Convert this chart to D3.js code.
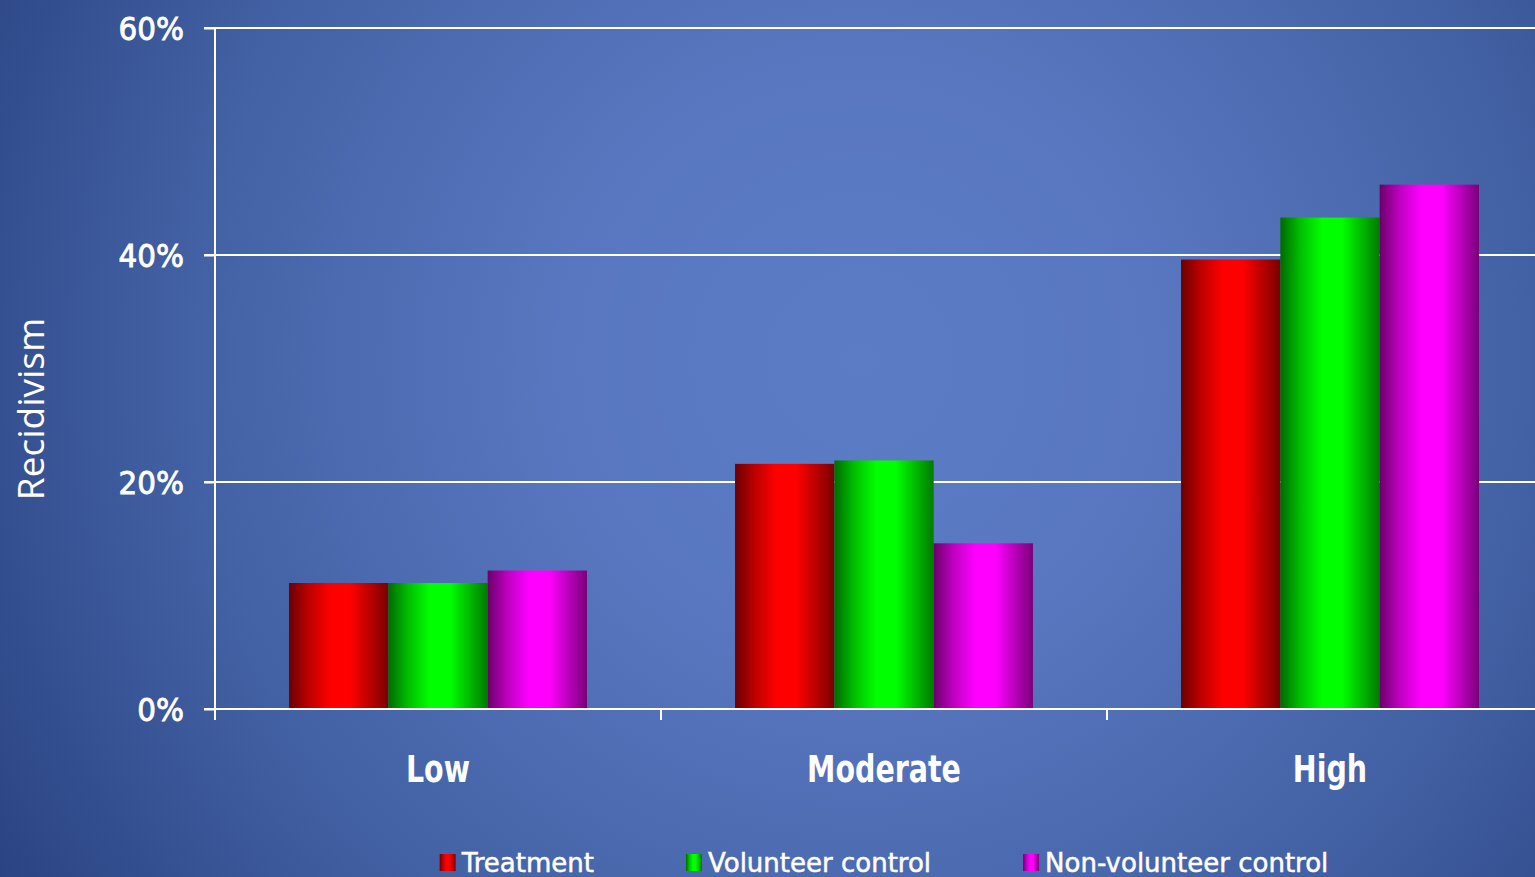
<!DOCTYPE html>
<html>
<head>
<meta charset="utf-8">
<script src="https://cdn.jsdelivr.net/npm/d3@7"></script>
<style>
  html, body { margin: 0; padding: 0; overflow: hidden; background: #3d5a9c; }
  svg { display: block; }
</style>
</head>
<body>
<svg id="chart" width="1535" height="877"></svg>
<script>
// ---- data ----
const categories = ["Low", "Moderate", "High"];
const seriesNames = ["Treatment", "Volunteer control", "Non-volunteer control"];
const treatment = [11.1, 21.6, 39.6];
const volunteerControl = [11.1, 21.9, 43.3];
const nonVolunteerControl = [12.2, 14.6, 46.2];
const yTicks = [0, 20, 40, 60];
const yTitle = "Recidivism";
const seriesColors = ["#ff0000", "#00ff00", "#ff00ff"];

const seriesValues = [treatment, volunteerControl, nonVolunteerControl];

const W = 1535, H = 877;
const svg = d3.select("#chart");
const defs = svg.append("defs");

// background radial gradient
const bg = defs.append("radialGradient").attr("id", "bg")
  .attr("gradientUnits", "userSpaceOnUse")
  .attr("cx", 860).attr("cy", 360).attr("r", 1000);
[[0, "#5c7cc6"], [0.3, "#5877c0"], [0.65, "#4463a6"], [1, "#2b4483"]].forEach(([o, c]) =>
  bg.append("stop").attr("offset", o).attr("stop-color", c));
svg.append("rect").attr("width", W).attr("height", H).attr("fill", "url(#bg)");

// bar gradients
seriesColors.forEach((c, i) => {
  const base = d3.rgb(c);
  const k = f => d3.rgb(base.r * f, base.g * f, base.b * f);
  const g = defs.append("linearGradient").attr("id", "grad" + i)
    .attr("x1", 0).attr("x2", 1).attr("y1", 0).attr("y2", 0);
  [[0, k(0.42)], [0.2, k(0.75)], [0.42, base], [0.62, base], [0.8, k(0.75)], [1, k(0.48)]]
    .forEach(([o, col]) => g.append("stop").attr("offset", o).attr("stop-color", col.formatHex()));
});

// layout
const x0 = d3.scaleBand().domain(categories).range([215, 1553]).paddingInner(0.332).paddingOuter(0.166);
const x1 = d3.scaleBand().domain(d3.range(seriesNames.length)).range([0, x0.bandwidth()]);
const y = d3.scaleLinear().domain([0, 60]).range([709, 28]);

// gridlines
svg.append("g").selectAll("line").data(yTicks.filter(t => t > 0)).join("line")
  .attr("x1", 204).attr("x2", W).attr("y1", d => y(d)).attr("y2", d => y(d))
  .attr("stroke", "#fff").attr("stroke-width", 2);

// bars
const groups = svg.append("g").selectAll("g").data(categories).join("g")
  .attr("transform", d => `translate(${x0(d)},0)`);
groups.selectAll("rect")
  .data((d, ci) => seriesValues.map((vals, si) => ({ si, v: vals[ci] })))
  .join("rect")
  .attr("x", d => x1(d.si))
  .attr("width", x1.bandwidth())
  .attr("y", d => y(d.v))
  .attr("height", d => y(0) - y(d.v))
  .attr("fill", d => `url(#grad${d.si})`);

// y axis
const yAxis = svg.append("g").attr("transform", "translate(215,0)")
  .call(d3.axisLeft(y).tickValues(yTicks).tickFormat(d => d + "%").tickSize(11).tickPadding(20));
yAxis.select(".domain").remove();
yAxis.selectAll(".tick line").attr("stroke", "#fff").attr("stroke-width", 2);
yAxis.selectAll(".tick text")
  .attr("fill", "#fff").attr("stroke", "#fff").attr("stroke-width", 0.9)
  .attr("font-family", "DejaVu Sans, Verdana, sans-serif")
  .attr("font-size", 32).attr("dy", "0.36em")
  .each(function () { this.setAttribute("textLength", this.getComputedTextLength() * 0.92); this.setAttribute("lengthAdjust", "spacingAndGlyphs"); });
svg.append("line").attr("x1", 215).attr("x2", 215).attr("y1", y(60)).attr("y2", 720)
  .attr("stroke", "#fff").attr("stroke-width", 2);

// x axis
svg.append("line").attr("x1", 204).attr("x2", W).attr("y1", y(0)).attr("y2", y(0))
  .attr("stroke", "#fff").attr("stroke-width", 2);
const boundaries = categories.map(c => x0(c) - x0.step() * x0.paddingOuter());
svg.append("g").selectAll("line").data(boundaries).join("line")
  .attr("x1", d => d).attr("x2", d => d).attr("y1", y(0)).attr("y2", 720)
  .attr("stroke", "#fff").attr("stroke-width", 2);
svg.append("g").selectAll("text").data(categories).join("text")
  .attr("x", d => x0(d) + x0.bandwidth() / 2)
  .attr("y", 782)
  .attr("text-anchor", "middle")
  .attr("fill", "#fff")
  .attr("font-family", "DejaVu Sans, Verdana, sans-serif")
  .attr("font-weight", "bold")
  .attr("font-size", 37)
  .text(d => d)
  .each(function () { this.setAttribute("textLength", this.getComputedTextLength() * 0.77); this.setAttribute("lengthAdjust", "spacingAndGlyphs"); });

// y title
svg.append("text")
  .attr("transform", "translate(44,409) rotate(-90)")
  .attr("text-anchor", "middle")
  .attr("fill", "#fff")
  .attr("font-family", "Open Sans, Noto Sans, sans-serif")
  .attr("font-size", 37)
  .text(yTitle);

// legend
const legend = svg.append("g");
let lx = 0;
seriesNames.forEach((name, i) => {
  const g = legend.append("g");
  g.append("rect").attr("x", lx).attr("y", 854).attr("width", 16).attr("height", 17)
    .attr("fill", `url(#grad${i})`);
  const t = g.append("text").attr("x", lx + 22).attr("y", 872)
    .attr("fill", "#fff").attr("stroke", "#fff").attr("stroke-width", 0.5)
    .attr("font-family", "DejaVu Sans, Verdana, sans-serif")
    .attr("font-size", 26).text(name);
  lx += 22 + t.node().getComputedTextLength() + 92;
});
const legendWidth = lx - 92;
legend.attr("transform", `translate(${884 - legendWidth / 2},0)`);
</script>
</body>
</html>
